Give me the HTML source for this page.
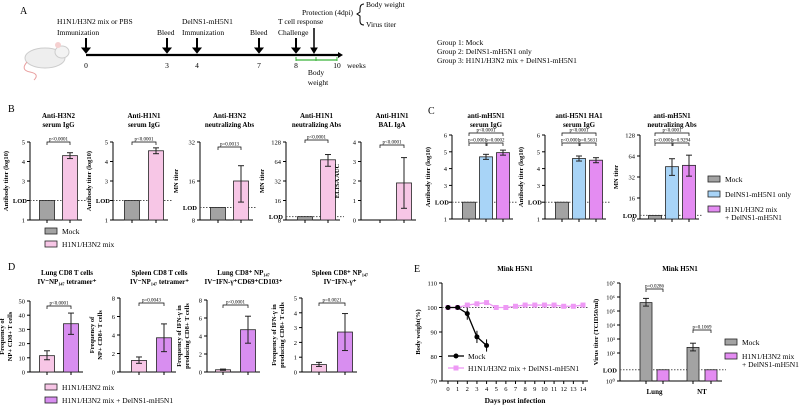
<!DOCTYPE html>
<html><head><meta charset="utf-8"><style>
body{margin:0;background:#fff}
svg{display:block;font-family:"Liberation Serif",serif}
</style></head><body>
<svg id="fig" width="800" height="408" viewBox="0 0 800 408" xmlns="http://www.w3.org/2000/svg">
<g id="panelA" font-size="7.5">
<text x="20" y="14" font-size="10">A</text>
<g>
<ellipse cx="45" cy="58" rx="20" ry="10" fill="#eee" stroke="#ccc"/>
<ellipse cx="62" cy="52" rx="7" ry="6" fill="#f3f3f3" stroke="#ccc"/>
<circle cx="58" cy="45" r="3" fill="#f5d0d0"/>
<path d="M27 62 Q20 70 30 72 Q40 74 34 80" stroke="#e9a0a0" fill="none"/>
</g>
<line x1="86" y1="55" x2="338" y2="55" stroke="#000" stroke-width="2.2"/>
<polygon points="338,52 343,55 338,58" fill="#000"/>
<g fill="#000" stroke="#000">
<line x1="86" y1="38" x2="86" y2="49" stroke-width="2"/><polygon points="82,48 90,48 86,53"/>
<line x1="167" y1="38" x2="167" y2="49" stroke-width="2"/><polygon points="163,48 171,48 167,53"/>
<line x1="197" y1="38" x2="197" y2="49" stroke-width="2"/><polygon points="193,48 201,48 197,53"/>
<line x1="259" y1="38" x2="259" y2="49" stroke-width="2"/><polygon points="255,48 263,48 259,53"/>
<line x1="296" y1="38" x2="296" y2="49" stroke-width="2"/><polygon points="292,48 300,48 296,53"/>
<line x1="314" y1="28" x2="314" y2="49" stroke-width="1.5"/><polygon points="311,48 317,48 314,53"/>
</g>
<text x="57" y="24">H1N1/H3N2 mix or PBS</text><text x="57" y="35">Immunization</text>
<text x="157" y="35">Bleed</text>
<text x="182" y="24">DelNS1-mH5N1</text><text x="182" y="35">Immunization</text>
<text x="250" y="35">Bleed</text>
<text x="278" y="24">T cell response</text><text x="278" y="35">Challenge</text>
<text x="302" y="15">Protection (4dpi)</text>
<path d="M364 4 Q360 4 360 9 L360 12 L357 14 L360 16 L360 21 Q360 25 364 25" fill="none" stroke="#000"/>
<text x="366" y="7">Body weight</text><text x="366" y="27">Virus titer</text>
<line x1="296" y1="60" x2="337" y2="60" stroke="#3bb33b" stroke-width="1.2"/>
<line x1="296" y1="57" x2="296" y2="61" stroke="#3bb33b"/><line x1="316" y1="57" x2="316" y2="61" stroke="#3bb33b"/><line x1="337" y1="57" x2="337" y2="61" stroke="#3bb33b"/>
<g text-anchor="middle"><text x="86" y="68">0</text><text x="167" y="68">3</text><text x="197" y="68">4</text><text x="259" y="68">7</text><text x="296" y="68">8</text><text x="337" y="68">10</text></g>
<text x="347" y="68">weeks</text>
<text x="316" y="75" text-anchor="middle">Body</text><text x="318" y="85" text-anchor="middle">weight</text>
<g><text x="437" y="45">Group 1: Mock</text><text x="437" y="54">Group 2: DelNS1-mH5N1 only</text><text x="437" y="63">Group 3: H1N1/H3N2 mix + DelNS1-mH5N1</text></g>
</g>
<text x="8" y="112" font-size="10">B</text>
<text x="428" y="114" font-size="10">C</text>
<text x="8" y="270" font-size="10">D</text>
<text x="414" y="272" font-size="10">E</text>
<g id="charts"></g>
</svg>
<script>
// ---- data ----
const GRAY="#a3a3a3",PINK="#f7c6e6",BLUE="#a8d4f7",PURP="#e48cf2",DPURP="#d88ef0";
const bTitles=[["Anti-H3N2","serum IgG"],["Anti-H1N1","serum IgG"],["Anti-H3N2","neutralizing Abs"],["Anti-H1N1","neutralizing Abs"],["Anti-H1N1","BAL IgA"]];
const bMock=[2,2,10,9,0];
const bMix=[4.3,4.55,16,68,1.9];
const bErr=[0.15,0.15,5,14,1.3];
const bP=["p<0.0001","p<0.0001","p=0.0013","p<0.0001","p<0.0001"];
const cTitles=[["anti-mH5N1","serum IgG"],["anti-H5N1 HA1","serum IgG"],["anti-mH5N1","neutralizing Abs"]];
const cMock=[2,2,9];
const cDel=[4.7,4.6,45];
const cMix=[4.95,4.5,47];
const cP=[["p<0.0001","p=0.0001","p=0.0002"],["p<0.0001","p<0.0001","p=0.5631"],["p<0.0001","p<0.0001","p=0.9294"]];
const dTitles=[["Lung CD8 T cells","IV⁻NP₁₄₇ tetramer⁺"],["Spleen CD8 T cells","IV⁻NP₁₄₇ tetramer⁺"],["Lung CD8⁺ NP₁₄₇","IV⁻IFN-γ⁺CD69⁺CD103⁺"],["Spleen CD8⁺ NP₁₄₇","IV⁻IFN-γ⁺"]];
const dMix=[11.5,1.25,0.25,0.5];
const dDel=[34,3.7,4.7,2.7];
const dErr=[7.5,1.5,1.5,1.25];
const dP=["p<0.0001","p=0.0043","p<0.0001","p=0.0021"];
const eDays=[0,1,2,3,4,5,6,7,8,9,10,11,12,13,14];
const eMock=[100,100,97.5,88,84.5];
const eMix=[100,100,101,101.5,102,100,100,100.5,101,101,101,101,100.5,100.5,101];
const tCats=["Lung","NT"];
const tMock=[5.6,2.4];
const tMix=[0.8,0.8];
const tP=["p=0.0286","p=0.1069"];

const G=document.getElementById('charts');
const NS="http://www.w3.org/2000/svg";
function mk(tag,at,parent,txt){const e=document.createElementNS(NS,tag);for(const k in at)e.setAttribute(k,at[k]);if(txt!==undefined)e.textContent=txt;(parent||G).appendChild(e);return e;}
function axis(p){
  const g=mk('g',{});
  
  
  const sc=v=>{const f=p.log2?(Math.log2(v)-Math.log2(p.min))/(Math.log2(p.max)-Math.log2(p.min)):(v-p.min)/(p.max-p.min);return p.bot-f*(p.bot-p.top);};
  mk('line',{x1:p.x,y1:p.top,x2:p.x,y2:p.bot,stroke:'#000','stroke-width':1},g);
  p.ticks.forEach((t,i)=>{const y=sc(t);mk('line',{x1:p.x-3,y1:y,x2:p.x,y2:y,stroke:'#000'},g);mk('text',{x:p.x-5,y:y+2.5,'font-size':6.5,'text-anchor':'end'},g,p.lbls[i]);});
  if(p.xend)mk('line',{x1:p.x,y1:p.bot,x2:p.xend,y2:p.bot,stroke:'#000'},g);
  const yl=p.ylabel||[];yl.forEach((s,i)=>mk('text',{x:0,y:0,'font-size':6.5,'font-weight':'bold','text-anchor':'middle',transform:`translate(${p.x-22+(i*8)-(yl.length-1)*4},${(p.top+p.bot)/2}) rotate(-90)`},g,s));
  if(p.title)p.title.forEach((s,i)=>mk('text',{x:p.tx,y:p.ty+i*9,'font-size':7,'font-weight':'bold','text-anchor':'middle'},g,s));
  if(p.lod!==undefined){const y=sc(p.lod);mk('line',{x1:p.x,y1:y,x2:p.xend+4,y2:y,stroke:'#555','stroke-dasharray':'1.5,1.5'},g);mk('text',{x:p.x-3,y:y+2.5,'font-size':6.5,'font-weight':'bold','text-anchor':'end'},g,'LOD');}
  return {g,sc};
}
function bar(ax,cx,w,v,col,err,name){
  const y=ax.sc(v),b=ax.sc(ax.base);
  const r=mk('rect',{x:cx-w/2,y:Math.min(y,b),width:w,height:Math.abs(b-y),fill:col,stroke:'#222','stroke-width':0.8},ax.g);
  
  
  if(err){const y1=ax.sc(err[0]),y2=ax.sc(err[1]);mk('line',{x1:cx,y1:y1,x2:cx,y2:y2,stroke:'#222'},ax.g);mk('line',{x1:cx-3,y1:y1,x2:cx+3,y2:y1,stroke:'#222'},ax.g);mk('line',{x1:cx-3,y1:y2,x2:cx+3,y2:y2,stroke:'#222'},ax.g);}
  mk('line',{x1:cx,y1:b,x2:cx,y2:b+3,stroke:'#000'},ax.g);
}
function brk(g,x1,x2,y,t){mk('path',{d:`M${x1} ${y+3}V${y}H${x2}V${y+3}`,fill:'none',stroke:'#000','stroke-width':0.7},g);mk('text',{x:(x1+x2)/2,y:y-1.5,'font-size':5,'text-anchor':'middle'},g,t);}

// ---- Panel B ----
const bAx=[{x:30,min:1,max:5,log2:false,ticks:[1,2,3,4,5],lbls:['1','LOD','3','4','5'],yl:['Antibody titer (log10)'],lod:2,b1:47,b2:70},
{x:113,min:1,max:5,log2:false,ticks:[1,2,3,4,5],lbls:['1','LOD','3','4','5'],yl:['Antibody titer (log10)'],lod:2,b1:132,b2:156},
{x:200,min:8,max:32,log2:true,ticks:[8,16,32],lbls:['8','16','32'],yl:['MN titer'],lod:10,b1:218,b2:241},
{x:286,min:8,max:128,log2:true,ticks:[8,16,32,64,128],lbls:['8','16','32','64','128'],yl:['MN titer'],lod:9,b1:305,b2:328},
{x:361,min:0,max:4,log2:false,ticks:[0,1,2,3,4],lbls:['0','1','2','3','4'],yl:['ELISA AUC'],b1:380,b2:404}];
bAx.forEach((a,i)=>{
  const ax=axis({x:a.x,top:142,bot:220,min:a.min,max:a.max,log2:a.log2,ticks:a.ticks,lbls:a.lbls.map((l,k)=>(a.lod&&a.ticks[k]===2&&!a.log2)?'':l),ylabel:a.yl,name:'panel-b-chart-'+(i+1),title:bTitles[i],tx:(a.b1+a.b2)/2,ty:118,lod:a.lod,xend:a.b2+12});
  ax.base=a.min;
  bar(ax,a.b1,15,bMock[i],GRAY,null,'bar-mock');
  bar(ax,a.b2,15,bMix[i],PINK,[Math.max(a.min+0.01,bMix[i]-bErr[i]),bMix[i]+bErr[i]],'bar-h1n1-h3n2-mix');
  brk(ax.g,a.b1,a.b2,a.log2?(a.max===32?147:140):(a.max===4?145:142),bP[i]);
});
function legend(x,y,items,name){items.forEach((it,i)=>{const g=mk('g',{});mk('rect',{x:x,y:y+i*it[2]-4,width:12,height:6,fill:it[0],stroke:'#222','stroke-width':0.8},g);it[1].forEach((s,k)=>mk('text',{x:x+17,y:y+i*it[2]+2+k*8,'font-size':7.5},g,s));});}
legend(45,232,[[GRAY,['Mock'],13],[PINK,['H1N1/H3N2 mix'],13]],'legend-b');

// ---- Panel C ----
const cAx=[{x:452,min:1,max:6,log2:false,ticks:[1,2,3,4,5,6],b:[469,486,503]},{x:545,min:1,max:6,log2:false,ticks:[1,2,3,4,5,6],b:[562,579,596]},{x:640,min:8,max:128,log2:true,ticks:[8,16,32,64,128],b:[655,672,689]}];
cAx.forEach((a,i)=>{
  const ax=axis({x:a.x,top:135,bot:219,min:a.min,max:a.max,log2:a.log2,ticks:a.ticks,lbls:a.ticks.map(t=>(!a.log2&&t===2)?'':String(t)),ylabel:a.log2?['MN titer']:['Antibody titer (log10)'],name:'panel-c-chart-'+(i+1),title:cTitles[i],tx:a.b[1],ty:118,lod:a.log2?9:2,xend:a.b[2]+10});
  ax.base=a.min;
  bar(ax,a.b[0],13,cMock[i],GRAY,null,'bar-mock');
  bar(ax,a.b[1],13,cDel[i],BLUE,a.log2?[cDel[i]*0.75,cDel[i]*1.3]:[cDel[i]-0.15,cDel[i]+0.15],'bar-delns1');
  bar(ax,a.b[2],13,cMix[i],PURP,a.log2?[cMix[i]*0.7,cMix[i]*1.4]:[cMix[i]-0.15,cMix[i]+0.15],'bar-mix-delns1');
  brk(ax.g,a.b[0],a.b[1],143,cP[i][1]);brk(ax.g,a.b[1]+1,a.b[2],143,cP[i][2]);brk(ax.g,a.b[0],a.b[2],133,cP[i][0]);
});
legend(708,180,[[GRAY,['Mock'],15],[BLUE,['DelNS1-mH5N1 only'],15],[PURP,['H1N1/H3N2 mix','+ DelNS1-mH5N1'],15]],'legend-c');

// ---- Panel D ----
const dAx=[{x:30,max:50,ticks:[0,10,20,30,40,50],b:[47,71],top:301},{x:120,max:8,ticks:[0,2,4,6,8],b:[139,164],top:298},{x:207,max:8,ticks:[0,2,4,6,8],b:[223,248],top:300},{x:302,max:5,ticks:[0,1,2,3,4,5],b:[319,345],top:298}];
const dYl=[['Frequency of','NP+ CD8+ T cells'],['Frequency of','NP+ CD8+ T cells'],['Frequency of IFN-γ in','producing CD8+ T cells'],['Frequency of IFN-γ in','producing CD8+ T cells']];
dAx.forEach((a,i)=>{
  const ax=axis({x:a.x,top:a.top,bot:372,min:0,max:a.max,log2:false,ticks:a.ticks,lbls:a.ticks.map(String),ylabel:dYl[i],name:'panel-d-chart-'+(i+1),title:dTitles[i],tx:(a.b[0]+a.b[1])/2+8,ty:275,xend:a.b[1]+12});
  ax.base=0;
  bar(ax,a.b[0],15,dMix[i],PINK,[dMix[i]-dMix[i]*0.25,dMix[i]+dMix[i]*0.3],'bar-h1n1-h3n2-mix');
  bar(ax,a.b[1],15,dDel[i],DPURP,[dDel[i]-dErr[i],dDel[i]+dErr[i]],'bar-mix-delns1');
  brk(ax.g,a.b[0],a.b[1],a.top+5,dP[i]);
});
legend(45,388,[[PINK,['H1N1/H3N2 mix'],13],[DPURP,['H1N1/H3N2 mix + DelNS1-mH5N1'],13]],'legend-d');

// ---- Panel E line ----
(function(){
  const ax=axis({x:442,top:283,bot:381,min:70,max:110,log2:false,ticks:[70,80,90,100,110],lbls:['70','80','90','100','110'],ylabel:['Body weight(%)'],name:'panel-e-body-weight',title:['Mink H5N1'],tx:515,ty:271});
  const xs=d=>448+d*(583-448)/14;
  mk('line',{x1:442,y1:381,x2:588,y2:381,stroke:'#000'},ax.g);
  eDays.forEach(d=>{mk('line',{x1:xs(d),y1:381,x2:xs(d),y2:384,stroke:'#000'},ax.g);mk('text',{x:xs(d),y:391,'font-size':6.5,'text-anchor':'middle'},ax.g,String(d));});
  mk('text',{x:515,y:403,'font-size':7.5,'font-weight':'bold','text-anchor':'middle'},ax.g,'Days post infection');
  mk('line',{x1:442,y1:ax.sc(100),x2:588,y2:ax.sc(100),stroke:'#555','stroke-dasharray':'1.5,1.5'},ax.g);
  const pl=mk('polyline',{points:eMix.map((v,i)=>xs(eDays[i])+','+ax.sc(v)).join(' '),fill:'none',stroke:'#ee99f5','stroke-width':1.3},ax.g);
  
  eMix.forEach((v,i)=>{mk('rect',{x:xs(eDays[i])-2.5,y:ax.sc(v)-2.5,width:5,height:5,fill:'#ee99f5'},ax.g);});
  const ml=mk('polyline',{points:eMock.map((v,i)=>xs(eDays[i])+','+ax.sc(v)).join(' '),fill:'none',stroke:'#000','stroke-width':1.3},ax.g);
  
  eMock.forEach((v,i)=>{mk('circle',{cx:xs(eDays[i]),cy:ax.sc(v),r:2.5,fill:'#000'},ax.g);if(i>1){mk('line',{x1:xs(eDays[i]),y1:ax.sc(v-2.5),x2:xs(eDays[i]),y2:ax.sc(v+2.5),stroke:'#000'},ax.g);}});
  mk('line',{x1:448,y1:356,x2:464,y2:356,stroke:'#000','stroke-width':1.3},ax.g);mk('circle',{cx:456,cy:356,r:2.5,fill:'#000'},ax.g);mk('text',{x:468,y:359,'font-size':7.5},ax.g,'Mock');
  mk('line',{x1:448,y1:368,x2:464,y2:368,stroke:'#ee99f5','stroke-width':1.3},ax.g);mk('rect',{x:453.5,y:365.5,width:5,height:5,fill:'#ee99f5'},ax.g);mk('text',{x:468,y:371,'font-size':7.5},ax.g,'H1N1/H3N2 mix + DelNS1-mH5N1');
})();

// ---- Panel E titer ----
(function(){
  const ax=axis({x:620,top:283,bot:381,min:0,max:7,log2:false,ticks:[0,2,3,4,5,6,7],lbls:['10⁰','10²','10³','10⁴','10⁵','10⁶','10⁷'],ylabel:['Virus titer (TCID50/ml)'],name:'panel-e-virus-titer',title:['Mink H5N1'],tx:680,ty:271,lod:0.8,xend:722});
  ax.base=0;
  const cx=[[646,663],[693,711]];
  tCats.forEach((c,i)=>{
    bar(ax,cx[i][0],12,tMock[i],GRAY,[tMock[i]-0.25,tMock[i]+0.3],'bar-mock-'+c.toLowerCase());
    bar(ax,cx[i][1],12,tMix[i],PURP,null,'bar-mix-'+c.toLowerCase());
    mk('text',{x:(cx[i][0]+cx[i][1])/2,y:394,'font-size':7,'font-weight':'bold','text-anchor':'middle'},ax.g,c);
    brk(ax.g,cx[i][0],cx[i][1],i===0?289:330,tP[i]);
  });
  legend(725,343,[[GRAY,['Mock'],14],[PURP,['H1N1/H3N2 mix','+ DelNS1-mH5N1'],14]],'legend-e');
})();
</script>
</body></html>
